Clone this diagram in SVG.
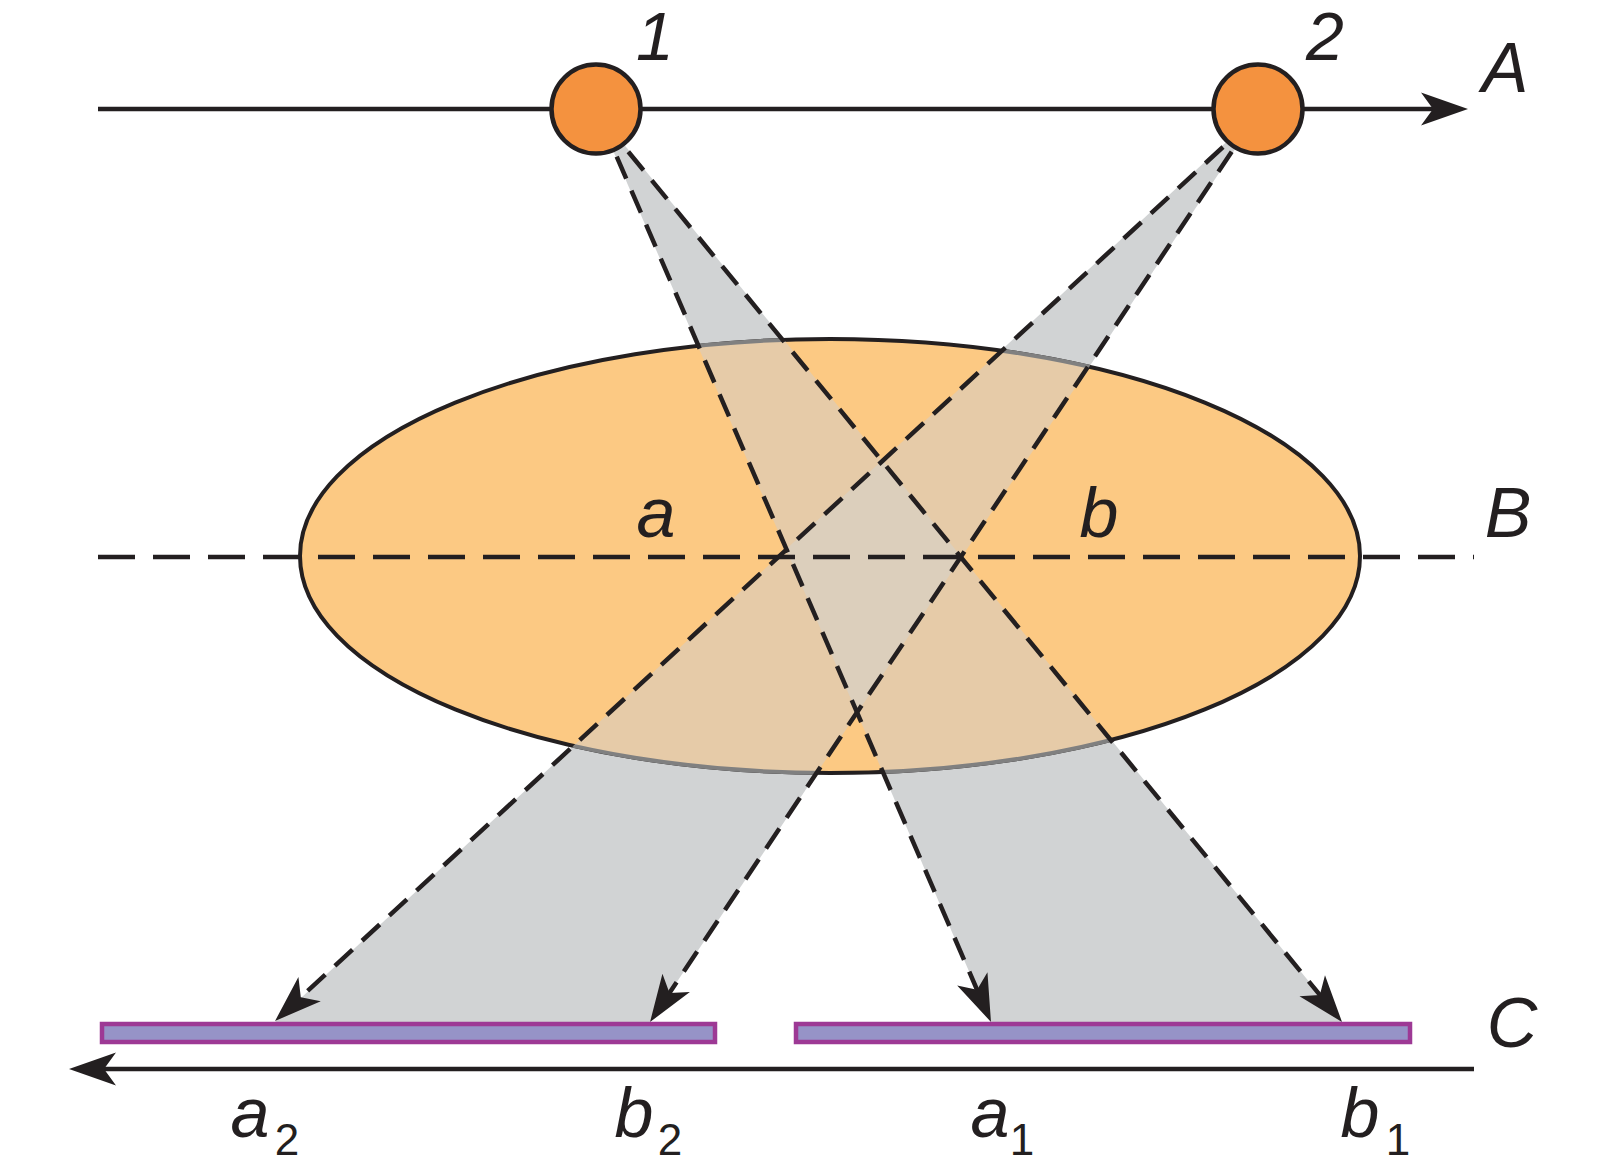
<svg xmlns="http://www.w3.org/2000/svg" width="1599" height="1165" viewBox="0 0 1599 1165">
<style>
.ln{stroke:#231f20;stroke-width:4.5;fill:none}
.ray{stroke:#231f20;stroke-width:4.5;fill:none;stroke-dasharray:24 13}
.lbl{font-family:"Liberation Sans",Arial,sans-serif;font-style:italic;font-size:70px;fill:#231f20}
.top{font-size:68px}
.sub{font-family:"Liberation Sans",Arial,sans-serif;font-style:normal;font-size:44px;fill:#231f20}
.bar{fill:#9693c7;stroke:#9d3995;stroke-width:4.5}
.src{fill:#f4923f;stroke:#231f20;stroke-width:4.5}
</style>
<defs>
<marker id="ah" viewBox="-40 -18 52 36" refX="0" refY="0" markerWidth="52" markerHeight="36" markerUnits="userSpaceOnUse" orient="auto">
<path d="M10,0 L-37,-16.5 L-25,0 L-37,16.5 Z" fill="#231f20"/>
</marker>
<polygon id="beam1" points="595,109 1342,1022 991,1022"/>
<polygon id="beam2" points="1262,109 650,1022 275,1022"/>
<clipPath id="ellClip"><ellipse cx="830" cy="556" rx="530" ry="217"/></clipPath>
<clipPath id="b2Clip"><use href="#beam2"/></clipPath>
<clipPath id="beamsClip"><use href="#beam1"/><use href="#beam2"/></clipPath>
</defs>

<g id="beams">
<use href="#beam1" fill="#d1d3d4"/>
<use href="#beam2" fill="#d1d3d4"/>
</g>

<g id="object">
<ellipse cx="830" cy="556" rx="530" ry="217" fill="#fcc983" stroke="#231f20" stroke-width="4"/>
<g clip-path="url(#ellClip)">
<use href="#beam1" fill="#e6cba8"/>
<use href="#beam2" fill="#e6cba8"/>
<g clip-path="url(#b2Clip)"><use href="#beam1" fill="#dccfbc"/></g>
</g>
<g clip-path="url(#beamsClip)">
<ellipse cx="830" cy="556" rx="530" ry="217" fill="none" stroke="#808080" stroke-width="4"/>
</g>
</g>

<g id="axes">
<path class="ln" d="M98,109 L1458,109" marker-end="url(#ah)"/>
<path class="ln" d="M98,557 L1474,557" stroke-width="5.5" stroke-dasharray="37 18"/>
<path class="ln" d="M1474,1069 L79,1069" marker-end="url(#ah)"/>
</g>

<g id="connectors">
<path class="ray" d="M616.7,156.7 L987,1012.8" marker-end="url(#ah)"/>
<path class="ray" d="M628.3,151.7 L1335.7,1014.3" marker-end="url(#ah)"/>
<path class="ray" d="M1223,147 L282.4,1014.2" marker-end="url(#ah)"/>
<path class="ray" d="M1231.7,151.7 L655.6,1013.7" marker-end="url(#ah)"/>
</g>

<g id="detector-2">
<rect class="bar" x="102" y="1024" width="613" height="18"/>
</g>
<g id="detector-1">
<rect class="bar" x="796" y="1024" width="614" height="18"/>
</g>

<g id="source-1">
<circle class="src" cx="596" cy="109" r="44.5"/>
<text class="lbl top" x="655" y="60" text-anchor="middle">1</text>
</g>
<g id="source-2">
<circle class="src" cx="1258" cy="109" r="44.5"/>
<text class="lbl top" x="1325" y="60" text-anchor="middle">2</text>
</g>

<g id="labels">
<text class="lbl" x="1505" y="92" text-anchor="middle">A</text>
<text class="lbl" x="1508" y="537" text-anchor="middle">B</text>
<text class="lbl" x="1512" y="1047" text-anchor="middle">C</text>
<text class="lbl" x="656" y="537" text-anchor="middle">a</text>
<text class="lbl" x="1099" y="537" text-anchor="middle">b</text>
<text class="lbl" x="250" y="1137" text-anchor="middle">a</text>
<text class="sub" x="287" y="1155" text-anchor="middle">2</text>
<text class="lbl" x="634" y="1137" text-anchor="middle">b</text>
<text class="sub" x="670" y="1155" text-anchor="middle">2</text>
<text class="lbl" x="990" y="1137" text-anchor="middle">a</text>
<text class="sub" x="1022" y="1155" text-anchor="middle">1</text>
<text class="lbl" x="1360" y="1137" text-anchor="middle">b</text>
<text class="sub" x="1398" y="1155" text-anchor="middle">1</text>
</g>
</svg>
